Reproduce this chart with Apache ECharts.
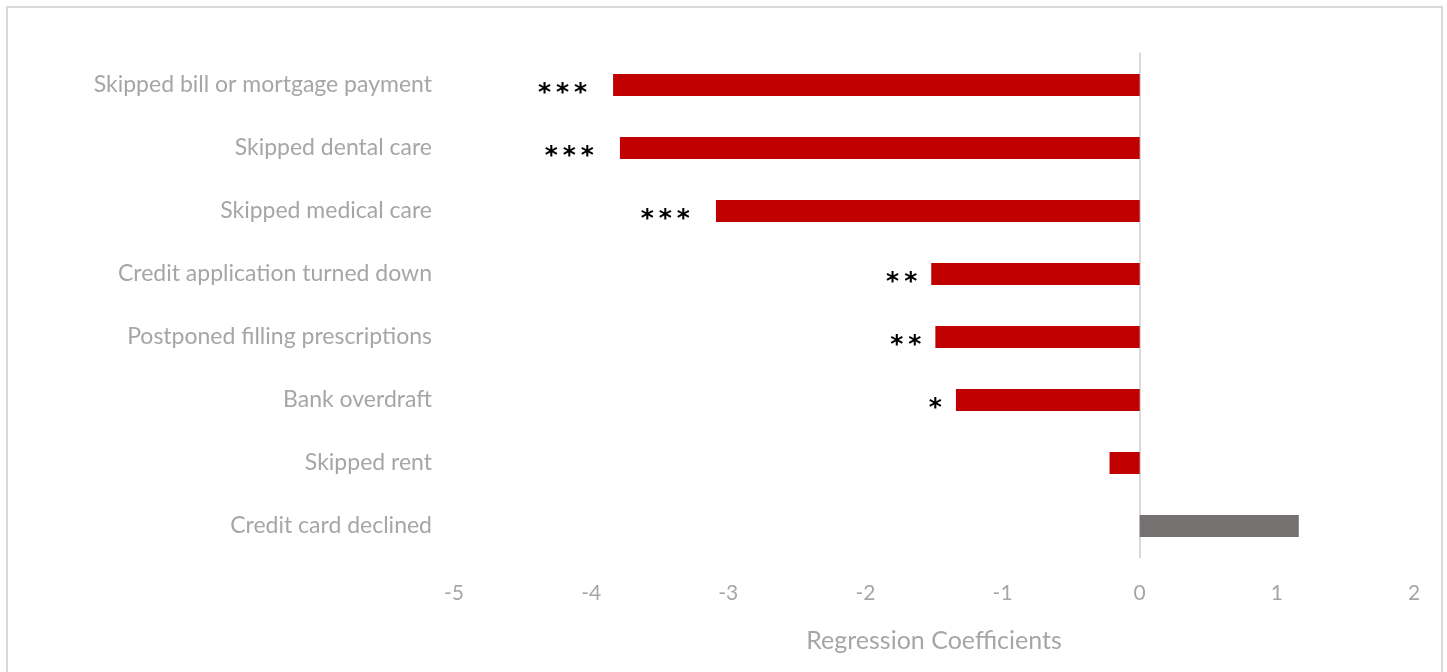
<!DOCTYPE html>
<html>
<head>
<meta charset="utf-8">
<script src="https://cdn.jsdelivr.net/npm/echarts@6/dist/echarts.min.js"></script>
<style>
html,body{margin:0;padding:0;background:#fff;}
#chart{width:1447px;height:672px;}
</style>
</head>
<body>
<div id="chart"></div>
<script>
const categories = [
  "Skipped bill or mortgage payment",
  "Skipped dental care",
  "Skipped medical care",
  "Credit application turned down",
  "Postponed filling prescriptions",
  "Bank overdraft",
  "Skipped rent",
  "Credit card declined"
];
const coefficients = [-3.84, -3.79, -3.09, -1.52, -1.49, -1.34, -0.22, 1.16];
const significance = ["***", "***", "***", "**", "**", "*", "", ""];
const xTicks = [-5, -4, -3, -2, -1, 0, 1, 2];
const axisTitle = "Regression Coefficients";

const chart = echarts.init(document.getElementById('chart'));
const labelColor = '#a6a6a6';

const dataItems = coefficients.map((v, i) => {
  const stars = significance[i];
  return {
    value: v,
    itemStyle: { color: v < 0 ? '#C00000' : '#767171' },
    label: {
      show: stars.length > 0,
      position: 'left',
      distance: stars.length === 3 ? 26 : 14,
      offset: [0, 8],
      formatter: () => stars.split('').join('\u2009'),
      color: '#000',
      fontFamily: 'DejaVu Sans',
      fontWeight: 'bold',
      fontSize: 25
    }
  };
});

chart.setOption({
  animation: false,
  graphic: [{
    type: 'rect',
    shape: { x: 7, y: 7, width: 1435, height: 700 },
    style: { fill: 'none', stroke: '#d9d9d9', lineWidth: 2 },
    silent: true
  }],
  grid: { left: 454, right: 33, top: 53.5, bottom: 114.5, containLabel: false },
  xAxis: {
    type: 'value',
    min: xTicks[0],
    max: xTicks[xTicks.length - 1],
    interval: 1,
    name: axisTitle,
    nameLocation: 'middle',
    nameGap: 71,
    nameTextStyle: { color: labelColor, fontFamily: 'Lato', fontSize: 25 },
    axisLine: { show: false },
    axisTick: { show: false },
    splitLine: { show: false },
    axisLabel: { color: labelColor, fontFamily: 'Lato', fontSize: 21, margin: 25 }
  },
  yAxis: {
    type: 'category',
    data: categories,
    inverse: true,
    axisLine: { show: true, onZero: true, lineStyle: { color: '#d9d9d9', width: 2 } },
    axisTick: { show: false },
    axisLabel: { color: labelColor, fontFamily: 'Lato', fontSize: 23, margin: 22 },
    position: 'left',
    splitLine: { show: false }
  },
  series: [{
    type: 'bar',
    data: dataItems,
    barWidth: 22
  }]
});
</script>
</body>
</html>
